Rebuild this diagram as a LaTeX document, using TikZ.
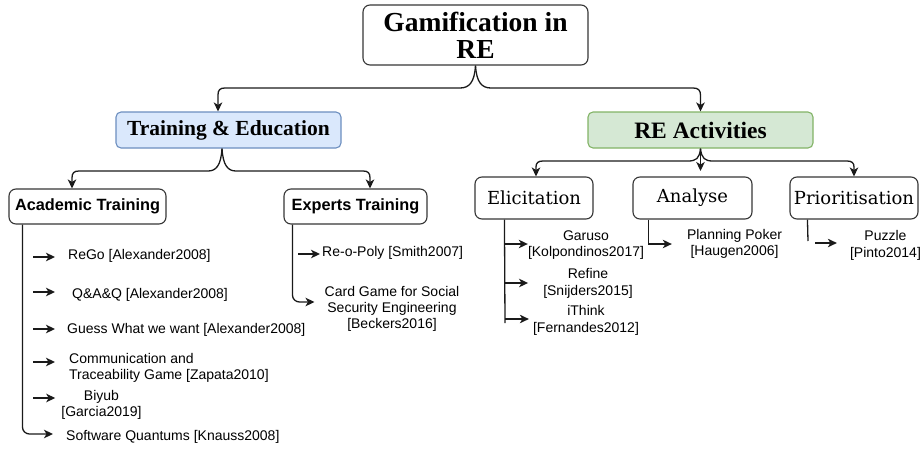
\documentclass[tikz,border=0pt]{standalone}
\usepackage{fontspec}
\setmainfont{Latin Modern Roman}
\newfontfamily\hsans{Liberation Sans}
\newfontfamily\hserif{Liberation Serif}
\newfontfamily\dserif{DejaVu Serif}
\usetikzlibrary{arrows.meta}
\definecolor{boxline}{HTML}{363636}
\definecolor{blueFill}{HTML}{DAE8FC}
\definecolor{blueLine}{HTML}{6C8EBF}
\definecolor{greenFill}{HTML}{D5E8D4}
\definecolor{greenLine}{HTML}{82B366}
\definecolor{edge}{HTML}{1A1A1A}
\begin{document}
\begin{tikzpicture}[x=1pt,y=-1pt,
  box/.style={draw=boxline, line width=1.1pt, rounded corners=7pt, inner sep=0pt, align=center, fill=white},
  rootfont/.style={font=\hserif\bfseries\fontsize{27.5}{27}\selectfont},
  midfont/.style={font=\hserif\bfseries\fontsize{21.5}{24}\selectfont},
  actfont/.style={font=\dserif\fontsize{18}{22}\selectfont},
  subfont/.style={font=\hsans\bfseries\fontsize{16.3}{19}\selectfont},
  item/.style={font=\hsans\fontsize{14}{16.3}\selectfont, inner sep=0pt, align=center},
  itemL/.style={item, align=left, anchor=west},
  conn/.style={draw=edge, line width=1.3pt},
  arr/.style={conn, -{Stealth[length=9pt,width=8.5pt,inset=2.5pt]}}
]
\useasboundingbox (0,0) rectangle (922,450);

% ---------- boxes ----------
\node[box, rootfont, minimum width=225pt, minimum height=60pt] (root) at (475.5,35)
  {Gamification in\\RE};
\node[box, midfont, fill=blueFill, draw=blueLine, rounded corners=5pt,
  minimum width=225pt, minimum height=36pt] (tne) at (228.5,130) {Training \& Education};
\node[box, midfont, fill=greenFill, draw=greenLine, rounded corners=5pt,
  minimum width=225pt, minimum height=36pt, font=\hserif\bfseries\fontsize{23.5}{24}\selectfont] (rea) at (700.5,130) {RE Activities};

\node[box, subfont, minimum width=157pt, minimum height=35pt] (acad) at (87.5,206.5) {Academic Training};
\node[box, subfont, minimum width=143pt, minimum height=35pt] (expt) at (355.5,206.5) {Experts Training};

\node[box, actfont, minimum width=118pt, minimum height=42pt] (elic) at (534,198) {Elicitation};
\node[box, actfont, minimum width=119pt, minimum height=42pt] (anal) at (692.5,198) {Analyse};
\node[box, actfont, minimum width=128pt, minimum height=42pt] (prio) at (854,198) {Prioritisation};

% ---------- top connectors ----------
\draw[arr] (root.south) .. controls +(-1,17) and +(9,0) .. (460,88)
  -- (225,88) .. controls (220,88) and (218,90) .. (218,95) -- ([xshift=-10.5pt]tne.north);
\draw[arr] (root.south) .. controls +(1,17) and +(-9,0) .. (491,88)
  -- (693,88) .. controls (698,88) and (700.5,90) .. (700.5,95) -- (rea.north);

\draw[arr] ([xshift=-6.5pt]tne.south) .. controls +(-1,17) and +(8,0) .. (208,171)
  -- (79,171) .. controls (74,171) and (72,173) .. (72,178) -- ([xshift=-15.5pt]acad.north);
\draw[arr] ([xshift=-6.5pt]tne.south) .. controls +(1,17) and +(-8,0) .. (236,171)
  -- (363,171) .. controls (368,171) and (370,173) .. (370,178) -- ([xshift=14.5pt]expt.north);

\coordinate (midtip) at (700.5,171);
\draw[arr] (rea.south) .. controls +(-1,10) and +(8,0) .. (688,161)
  -- (543,161) .. controls (538,161) and (536,163) .. (536,167) -- ([xshift=2pt]elic.north);
\draw[arr] (rea.south) -- (midtip);
\draw[arr] (rea.south) .. controls +(1,10) and +(-8,0) .. (713,161)
  -- (847,161) .. controls (852,161) and (854,163) .. (854,167) -- (prio.north);

% ---------- academic training items ----------
\node[itemL] (rego) at (68,256) {ReGo [Alexander2008]};
\node[itemL] (qaq) at (72,295) {Q\&A\&Q [Alexander2008]};
\node[itemL] (guess) at (67,330) {Guess What we want [Alexander2008]};
\node[itemL] (comm) at (69,368) {Communication and\\Traceability Game [Zapata2010]};
\node[item] (biyub) at (101.5,405) {Biyub\\{}[Garcia2019]};
\node[itemL] (soft) at (66,437) {Software Quantums [Knauss2008]};

\coordinate (a1) at (33,257);
\coordinate (a2) at (33,292);
\coordinate (a3) at (33,329);
\coordinate (a4) at (33,362);
\coordinate (a5) at (33,398);
\draw[arr, shorten >=13pt] (a1) -- (a1 -| rego.west);
\draw[arr, shorten >=17pt] (a2) -- (a2 -| qaq.west);
\draw[arr, shorten >=12pt] (a3) -- (a3 -| guess.west);
\draw[arr, shorten >=14pt] (a4) -- (a4 -| comm.west);
\draw[arr, shorten >=6pt] (a5) -- (a5 -| biyub.west);
\draw[arr, rounded corners=7pt, shorten >=13pt] ([xshift=14pt]acad.south west) |- ([yshift=3pt]soft.west);

% ---------- experts training items ----------
\node[itemL] (repoly) at (322,253) {Re-o-Poly [Smith2007]};
\node[item] (card) at (392,309) {Card Game for Social\\Security Engineering\\{}[Beckers2016]};
\coordinate (b1) at (298,254);
\draw[arr, shorten >=2pt] (b1) -- (b1 -| repoly.west);
\draw[arr, rounded corners=7pt, shorten >=10pt] ([xshift=9pt]expt.south west) |- ([yshift=7pt]card.west);

% ---------- elicitation items ----------
\node[item] (garuso) at (586,245) {Garuso\\{}[Kolpondinos2017]};
\node[item] (refine) at (588,283.5) {Refine\\{}[Snijders2015]};
\node[item] (ithink) at (586,320.5) {iThink\\{}[Fernandes2012]};
\coordinate (ebot) at (505,323);
\coordinate (e1) at (505,244);
\coordinate (e2) at (505,283);
\coordinate (e3) at (505,319);
\draw[conn] ([xshift=30pt]elic.south west) -- (ebot);
\draw[arr] (e1) -- (e1 -| garuso.west);
\draw[arr, shorten >=15pt] (e2) -- (e2 -| refine.west);
\draw[arr, shorten >=4pt] (e3) -- (e3 -| ithink.west);

% ---------- analyse item ----------
\node[item] (poker) at (734.5,244) {Planning Poker\\{}[Haugen2006]};
\draw[arr, shorten >=15pt] ([xshift=16pt]anal.south west) |- (poker.west);

% ---------- prioritisation item ----------
\node[item] (puzzle) at (885.5,245.5) {Puzzle\\{}[Pinto2014]};
\coordinate (pend) at (808,241);
\coordinate (p1) at (815,243);
\draw[conn] ([xshift=18pt]prio.south west) -- (pend);
\draw[arr, shorten >=13pt] (p1) -- (p1 -| puzzle.west);
\end{tikzpicture}
\end{document}
